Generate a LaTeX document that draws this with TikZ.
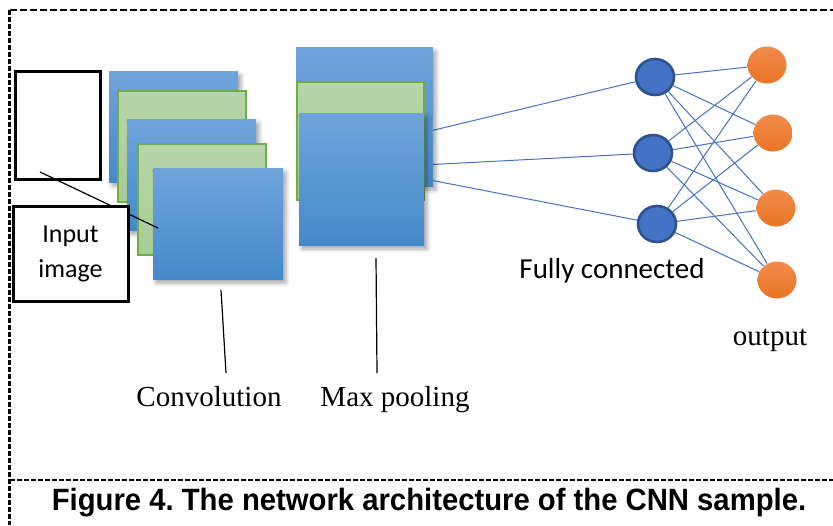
\documentclass[tikz,border=0pt]{standalone}
\usepackage{fontspec}
\setmainfont{Liberation Serif}
\newfontfamily\calibrifont{Carlito}
\newfontfamily\captionfont{Liberation Sans}
\usepackage{tikz}
\usetikzlibrary{shapes.geometric}
\usetikzlibrary{shadows.blur}
\usetikzlibrary{backgrounds}

\definecolor{mapblueT}{RGB}{111,165,219}
\definecolor{mapblueB}{RGB}{69,137,202}
\definecolor{mapgreenT}{RGB}{183,214,169}
\definecolor{mapgreenB}{RGB}{168,204,150}
\definecolor{mapgreenD}{RGB}{112,173,71}
\definecolor{fcblue}{RGB}{68,114,196}
\definecolor{fcborder}{RGB}{47,82,143}
\definecolor{outT}{RGB}{241,140,76}
\definecolor{outB}{RGB}{234,116,37}

\begin{document}
\frenchspacing
\begin{tikzpicture}[x=0.5pt,y=-0.5pt,
  bluemap/.style={rectangle,inner sep=0pt,draw=none,
    top color=mapblueT,bottom color=mapblueB,
    blur shadow={shadow xshift=1.5pt,shadow yshift=-2pt,
      shadow blur radius=2pt,shadow opacity=35}},
  greenmap/.style={rectangle,inner sep=0pt,draw=mapgreenD,line width=0.6pt,
    top color=mapgreenT,bottom color=mapgreenB},
  fcnode/.style={ellipse,inner sep=0pt,minimum width=19pt,minimum height=18pt,
    fill=fcblue,draw=fcborder,line width=1.3pt},
  outnode/.style={ellipse,inner sep=0pt,minimum width=19.5pt,minimum height=18.5pt,
    top color=outT,bottom color=outB,draw=none},
  wire/.style={fcblue,line width=0.5pt},
  serlabel/.style={anchor=base,font=\fontsize{14.5pt}{17pt}\selectfont}
]
  \useasboundingbox (0,0) rectangle (833,525);

  % dashed frame
  \draw[line width=1pt,dash pattern=on 3.5pt off 1.5pt] (9.5,9.5) -- (833,9.5);
  \draw[line width=1.2pt,dash pattern=on 2.5pt off 1pt] (9.5,9.5) -- (9.5,525);
  \draw[line width=0.7pt,dash pattern=on 2.5pt off 1pt] (10,480) -- (833,480);

  % convolution maps
  \node[bluemap,minimum width=64.5pt,minimum height=55.5pt] (c1) at (173.5,126.5) {};
  \node[greenmap,minimum width=64pt,minimum height=55.5pt] (c2) at (182,146.5) {};
  \node[bluemap,minimum width=64.5pt,minimum height=55.5pt] (c3) at (191.5,174.5) {};
  \node[greenmap,minimum width=64pt,minimum height=55.5pt] (c4) at (202,199.5) {};
  \node[bluemap,minimum width=65pt,minimum height=55.5pt] (c5) at (218,223.5) {};

  % pooling maps
  \node[bluemap,minimum width=68.5pt,minimum height=69.5pt] (m1) at (364.5,116.5) {};
  \node[greenmap,minimum width=63.5pt,minimum height=59pt] (m2) at (360.5,141) {};
  \node[bluemap,minimum width=62.5pt,minimum height=66pt] (m3) at (361.5,179) {};

  % input
  \node[draw,line width=1.5pt,fill=white,minimum width=42.5pt,minimum height=54pt] (img) at (57.5,125) {};
  \coordinate (imgtip) at (40,172);
  \coordinate (convtip) at (158,228);
  \draw[line width=0.6pt] (imgtip) -- (convtip);
  \node[draw,line width=1.5pt,fill=white,minimum width=57.5pt,minimum height=47.5pt,
    align=center,font=\calibrifont\fontsize{13pt}{17.5pt}\selectfont] (inlab) at (70.5,254) {Input\\image};

  % fully connected layer
  \node[fcnode] (f1) at (655,77) {};
  \node[fcnode] (f2) at (653,153) {};
  \node[fcnode] (f3) at (657,224) {};

  \node[outnode] (o1) at (767,65) {};
  \node[outnode] (o2) at (773,133) {};
  \node[outnode] (o3) at (776,208) {};
  \node[outnode] (o4) at (777,280) {};

  \coordinate (p1) at (430,131);
  \coordinate (p2) at (423,165);
  \coordinate (p3) at (430,180);
  \begin{scope}[on background layer]
    \draw[wire] (p1) -- (f1);
    \draw[wire] (p2) -- (f2);
    \draw[wire] (p3) -- (f3);
    \foreach \f in {f1,f2,f3}
      \foreach \o in {o1,o2,o3,o4}
        \draw[wire] (\f) -- (\o);
  \end{scope}

  % labels
  \node[anchor=base,font=\calibrifont\fontsize{14.5pt}{17pt}\selectfont] (fclab) at (612,278) {Fully connected};
  \node[serlabel] (outlab) at (770,345) {output};
  \node[serlabel] (cvlab) at (209,406) {Convolution};
  \node[serlabel] (mplab) at (395,406) {Max pooling};

  \coordinate (cvtop) at (221,290);
  \coordinate (cvfoot) at (226,373);
  \coordinate (mptop) at (376,258);
  \coordinate (mpfoot) at (377,373);
  \draw[line width=0.6pt] (cvtop) -- (cvfoot);
  \draw[line width=0.6pt] (mptop) -- (mpfoot);

  \node[anchor=base,font=\captionfont\bfseries\fontsize{15.4pt}{18pt}\selectfont] (cap) at (429,510)
    {\scalebox{0.95}[1]{Figure 4. The network architecture of the CNN sample.}};
\end{tikzpicture}
\end{document}
